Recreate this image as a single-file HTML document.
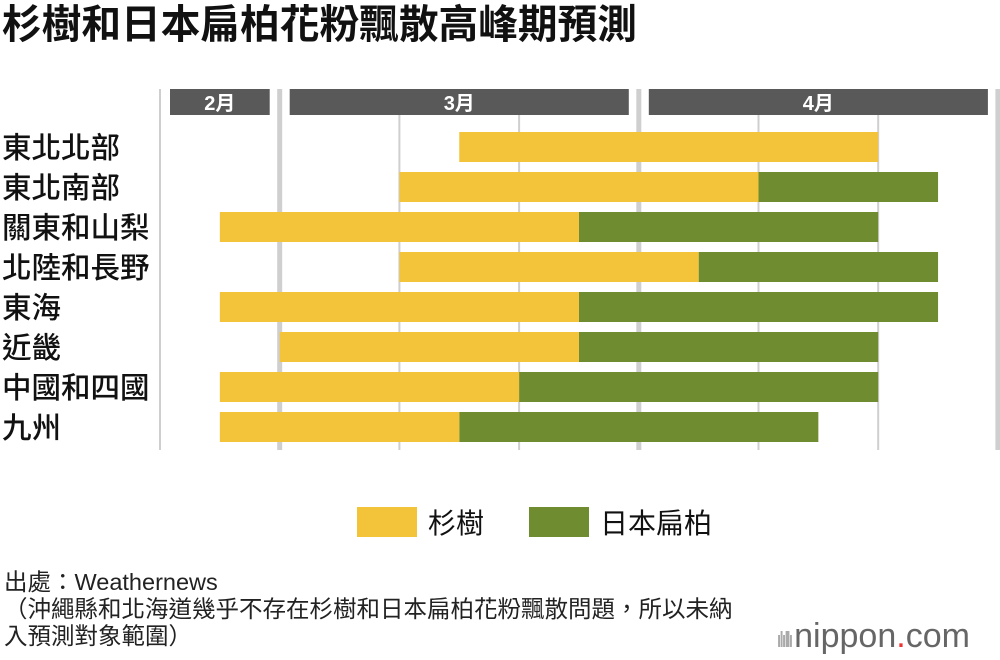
<!DOCTYPE html>
<html><head><meta charset="utf-8"><style>
body{margin:0;background:#fff;font-family:"Liberation Sans","Noto Sans CJK TC",sans-serif;}
#wrap{position:relative;width:1000px;height:660px;overflow:hidden;}
.t{position:absolute;white-space:nowrap;color:#111;}
</style></head><body>
<div id="wrap">
<div class="t" style="left:2px;top:0px;font-size:39.7px;font-weight:bold;line-height:50px;">杉樹和日本扁柏花粉飄散高峰期預測</div>
<svg id="chart" width="1000" height="660" style="position:absolute;left:0;top:0"></svg>
<div class="t" style="left:4px;top:569px;font-size:23.5px;line-height:27px;color:#222">出處：Weathernews<br>（沖繩縣和北海道幾乎不存在杉樹和日本扁柏花粉飄散問題，所以未納<br>入預測對象範圍）</div>
<div class="t" style="left:776px;top:616px;font-size:34px;color:#666;line-height:40px;"><span style="font-size:22px;letter-spacing:-3px;color:#aaa">ılıllı </span>nippon<span style="color:#e33">.</span>com</div>
</div>
<script>
const regions=["東北北部","東北南部","關東和山梨","北陸和長野","東海","近畿","中國和四國","九州"];
const cedarStart=[2.5,2,0.5,2,0.5,1,0.5,0.5];
const cedarEnd=[6,5,3.5,4.5,3.5,3.5,3,2.5];
const cypressEnd=[6,6.5,6,6.5,6.5,6,6,5.5];
const months=["2月","3月","4月"];
const monthStart=[0,1,4];
const monthEnd=[1,4,7];
const NS="http://www.w3.org/2000/svg";
const svg=document.getElementById('chart');
const x=v=>160+v*119.7;
const y=i=>147+i*40;
function mk(tag,attrs){const e=document.createElementNS(NS,tag);for(const k in attrs)e.setAttribute(k,attrs[k]);svg.appendChild(e);return e;}
for(let k=0;k<=7;k++){
  const major=(k===1||k===4||k===7);
  const g=mk('rect',{x:x(k)-(major?2.5:1),y:(major||k===0)?89:115,width:major?5:2,height:(major||k===0)?361:335,fill:'#cfcfcf'});
  
  
}
months.forEach((m,i)=>{
  const x0=x(monthStart[i])+10,x1=x(monthEnd[i])-10;
  const r=mk('rect',{x:x0,y:89,width:x1-x0,height:26,fill:'#595959'});
  
  
  const t=mk('text',{x:(x0+x1)/2,y:110,'text-anchor':'middle',fill:'#fff','font-size':20,'font-weight':'bold','font-family':'"Liberation Sans","Noto Sans CJK TC",sans-serif'});
  t.textContent=m;
  
  
});
regions.forEach((r,i)=>{
  const t=mk('text',{x:2,y:y(i)+11,fill:'#111','font-size':29.5,'font-weight':'500','font-family':'"Liberation Sans","Noto Sans CJK TC",sans-serif'});
  t.textContent=r;
  
  
  if(cypressEnd[i]>cedarEnd[i]){
    const g=mk('rect',{x:x(cedarEnd[i]),y:y(i)-15,width:x(cypressEnd[i])-x(cedarEnd[i]),height:30,fill:'#6f8c31'});
    
    
  }
  const b=mk('rect',{x:x(cedarStart[i]),y:y(i)-15,width:x(cedarEnd[i])-x(cedarStart[i]),height:30,fill:'#f3c33a'});
  
  
});
const l1=mk('rect',{x:357,y:507,width:60,height:30,fill:'#f3c33a'});


const lt1=mk('text',{x:428,y:533,'font-size':28,fill:'#111','font-family':'"Liberation Sans","Noto Sans CJK TC",sans-serif'});
lt1.textContent='杉樹';


const l2=mk('rect',{x:529,y:507,width:60,height:30,fill:'#6f8c31'});


const lt2=mk('text',{x:600,y:533,'font-size':28,fill:'#111','font-family':'"Liberation Sans","Noto Sans CJK TC",sans-serif'});
lt2.textContent='日本扁柏';


</script>
</body></html>
